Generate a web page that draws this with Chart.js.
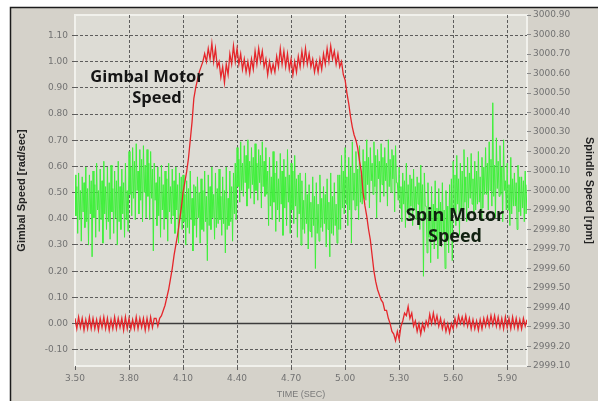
<!DOCTYPE html>
<html>
<head>
<meta charset="utf-8">
<script src="https://cdn.jsdelivr.net/npm/chart.js@4.4.0/dist/chart.umd.min.js"></script>
<style>
  html,body{margin:0;padding:0;background:#fff;}
  #wrap{width:598px;height:401px;position:relative;}
</style>
</head>
<body>
<div id="wrap"><canvas id="c" width="598" height="401"></canvas></div>
<script>
// ---- data ----
const timeTicks = [3.50, 3.80, 4.10, 4.40, 4.70, 5.00, 5.30, 5.60, 5.90];
const gimbalTicks = [-0.10, 0.00, 0.10, 0.20, 0.30, 0.40, 0.50, 0.60, 0.70, 0.80, 0.90, 1.00, 1.10];
const rpmTicks = [2999.10, 2999.20, 2999.30, 2999.40, 2999.50, 2999.60, 2999.70, 2999.80, 2999.90,
                  3000.00, 3000.10, 3000.20, 3000.30, 3000.40, 3000.50, 3000.60, 3000.70, 3000.80, 3000.90];

// sample timing of the recorded traces
const sampleStart = 3.50;
const gimbalStep = 0.01;   // gimbal trace: one value every 0.01 s
const spinCycle = 0.02;    // spin trace: 4 samples per 0.02 s cycle (peak, small trough, small peak, trough)

// Gimbal motor speed [rad/sec], 0.01 s apart starting at 3.50 s
const gimbalSpeed = [
  0.02,-0.02,0.025,-0.015,0.02,-0.025,0.015,-0.02,0.025,-0.02,
  0.02,-0.02,0.015,-0.025,0.02,-0.015,0.025,-0.02,0.02,-0.025,
  0.015,-0.02,0.025,-0.02,0.02,-0.015,0.02,-0.025,0.025,-0.02,
  0.02,-0.02,0.015,-0.02,0.025,-0.02,0.02,-0.015,0.02,-0.025,
  0.02,-0.02,0.025,-0.015,0.02,0.02,-0.01,0.02,0.03,0.05,
  0.07,0.10,0.13,0.17,0.21,0.26,0.30,0.34,0.39,0.44,
  0.50,0.54,0.58,0.63,0.70,0.77,0.86,0.90,0.93,0.96,
  0.98,1.00,1.03,1.00,1.05,1.01,1.07,1.00,1.05,0.98,
  1.00,0.94,0.98,0.92,0.99,0.95,1.03,0.99,1.06,1.00,
  1.05,0.99,1.03,0.97,1.01,0.96,1.00,0.955,1.01,0.97,
  1.04,0.99,1.05,1.00,1.04,0.98,1.01,0.95,1.00,0.96,
  0.99,0.96,1.02,0.98,1.05,0.99,1.04,0.98,1.03,0.97,
  1.01,0.95,1.00,0.96,1.02,0.98,1.04,0.99,1.05,0.99,
  1.03,0.98,1.01,0.96,1.00,0.96,1.01,0.97,1.03,0.99,
  1.05,1.00,1.06,1.01,1.04,0.99,1.03,0.98,1.00,0.95,
  0.93,0.88,0.84,0.79,0.75,0.72,0.70,0.67,0.62,0.58,
  0.50,0.45,0.41,0.36,0.32,0.26,0.20,0.16,0.13,0.11,
  0.09,0.08,0.05,0.05,0.02,0.00,-0.03,-0.04,-0.065,-0.03,
  -0.06,-0.01,0.01,0.04,0.03,0.065,0.02,0.04,-0.01,0.01,
  -0.03,0.00,-0.04,0.00,-0.025,0.01,-0.01,0.035,0.00,0.04,
  0.00,0.03,-0.01,0.02,-0.02,0.01,-0.03,0.00,-0.035,0.00,
  -0.02,0.02,-0.01,0.03,0.00,0.025,-0.005,0.03,-0.01,0.02,
  -0.02,0.015,-0.02,0.01,-0.025,0.015,-0.02,0.02,-0.01,0.025,
  -0.01,0.03,-0.005,0.03,-0.01,0.025,-0.015,0.02,-0.02,0.025,
  -0.015,0.02,-0.02,0.025,-0.015,0.02,-0.02,0.015,-0.02,0.02,
  -0.01,0.015
];

// Spin motor speed [rpm]; cycle i starts at 3.50 + 0.02 i
// big upper spikes (+0.000 s)
const spinHigh = [
  3000.08,3000.09,3000.07,3000.12,3000.08,
  3000.10,3000.14,3000.11,3000.15,3000.12,
  3000.13,3000.10,3000.15,3000.11,3000.14,
  3000.20,3000.22,3000.24,3000.21,3000.23,
  3000.21,3000.20,3000.14,3000.12,3000.13,
  3000.10,3000.14,3000.11,3000.12,3000.09,
  3000.08,3000.05,3000.10,3000.03,3000.07,
  3000.06,3000.10,3000.08,3000.12,3000.09,
  3000.11,3000.07,3000.12,3000.10,3000.09,
  3000.22,3000.25,3000.23,3000.26,3000.22,
  3000.24,3000.21,3000.25,3000.22,3000.17,
  3000.20,3000.15,3000.19,3000.16,3000.21,
  3000.14,3000.18,3000.08,3000.05,3000.09,
  3000.03,3000.07,3000.04,3000.08,3000.02,
  3000.06,3000.09,3000.04,3000.08,3000.18,
  3000.22,3000.17,3000.25,3000.20,3000.23,
  3000.21,3000.26,3000.22,3000.25,3000.21,
  3000.24,3000.22,3000.26,3000.21,3000.23,
  3000.12,3000.09,3000.14,3000.08,3000.11,
  3000.07,3000.13,3000.09,3000.04,3000.02,
  3000.05,3000.01,3000.04,3000.00,3000.03,
  3000.15,3000.18,3000.14,3000.21,3000.17,
  3000.19,3000.15,3000.20,3000.17,3000.22,
  3000.25,3000.45,3000.27,3000.23,3000.26,
  3000.14,3000.17,3000.09,3000.13,3000.07,3000.10
];
// small troughs (+0.005 s)
const spinMidLow = [
  2999.87,2999.85,2999.89,2999.84,2999.88,
  2999.86,2999.90,2999.85,2999.88,2999.84,
  2999.89,2999.86,2999.84,2999.88,2999.85,
  2999.98,2999.96,3000.00,2999.95,2999.99,
  2999.97,2999.96,2999.95,2999.87,2999.90,
  2999.86,2999.89,2999.87,2999.90,2999.86,
  2999.84,2999.81,2999.85,2999.82,2999.86,
  2999.80,2999.84,2999.82,2999.86,2999.81,
  2999.85,2999.83,2999.80,2999.84,2999.88,
  3000.02,3000.00,3000.04,3000.01,3000.03,
  3000.00,3000.04,3000.02,2999.98,2999.92,
  2999.94,2999.90,2999.93,2999.91,2999.94,
  2999.90,2999.92,2999.88,2999.80,2999.83,
  2999.79,2999.82,2999.78,2999.81,2999.83,
  2999.80,2999.78,2999.82,2999.80,2999.91,
  2999.93,2999.90,2999.95,2999.92,2999.94,
  2999.96,3000.03,3000.05,3000.02,3000.06,
  3000.03,3000.05,3000.02,3000.06,3000.04,
  2999.91,2999.93,2999.89,2999.92,2999.90,
  2999.93,2999.89,2999.92,2999.76,2999.74,
  2999.77,2999.75,2999.78,2999.74,2999.77,
  2999.91,2999.93,2999.90,2999.94,2999.91,
  2999.93,2999.90,2999.94,2999.91,2999.98,
  3000.00,2999.97,3000.01,2999.98,3000.00,
  2999.90,2999.88,2999.92,2999.89,2999.91,2999.88
];
// small peaks (+0.010 s)
const spinMidHigh = [
  3000.02,3000.00,3000.04,3000.01,3000.05,
  3000.03,3000.00,3000.05,3000.02,3000.04,
  3000.01,3000.05,3000.02,3000.04,3000.00,
  3000.12,3000.15,3000.10,3000.16,3000.13,
  3000.14,3000.11,3000.04,3000.07,3000.03,
  3000.06,3000.02,3000.05,3000.03,3000.07,
  2999.98,3000.01,2999.96,3000.02,2999.99,
  3000.00,2999.97,3000.02,2999.98,3000.01,
  2999.97,3000.00,2999.96,3000.02,3000.14,
  3000.16,3000.14,3000.18,3000.15,3000.17,
  3000.14,3000.18,3000.15,3000.10,3000.07,
  3000.09,3000.06,3000.10,3000.07,3000.08,
  3000.10,3000.06,3000.09,2999.95,2999.98,
  2999.94,2999.97,2999.93,2999.96,2999.98,
  2999.94,2999.97,2999.93,3000.08,3000.10,
  3000.07,3000.12,3000.09,3000.11,3000.08,
  3000.15,3000.17,3000.14,3000.18,3000.15,
  3000.17,3000.14,3000.16,3000.18,3000.04,
  3000.02,3000.05,3000.03,3000.06,3000.02,
  3000.04,3000.03,2999.92,2999.90,2999.93,
  2999.91,2999.94,2999.90,2999.92,3000.06,
  3000.08,3000.06,3000.10,3000.07,3000.09,
  3000.06,3000.10,3000.07,3000.12,3000.14,
  3000.16,3000.13,3000.15,3000.12,3000.05,
  3000.03,3000.06,3000.04,3000.07,3000.05,3000.03
];
// big lower spikes (+0.015 s)
const spinLow = [
  2999.78,2999.74,2999.81,2999.72,2999.66,
  2999.76,2999.79,2999.73,2999.80,2999.75,
  2999.78,2999.72,2999.80,2999.76,2999.79,
  2999.87,2999.85,2999.88,2999.84,2999.86,
  2999.85,2999.69,2999.82,2999.76,2999.80,
  2999.74,2999.83,2999.78,2999.73,2999.80,
  2999.72,2999.78,2999.69,2999.76,2999.73,
  2999.79,2999.64,2999.80,2999.75,2999.83,
  2999.77,2999.68,2999.82,2999.74,2999.85,
  2999.94,2999.97,2999.92,2999.96,2999.93,
  2999.95,2999.91,2999.97,2999.82,2999.85,
  2999.79,2999.84,2999.77,2999.82,2999.78,
  2999.83,2999.76,2999.72,2999.78,2999.70,
  2999.76,2999.60,2999.74,2999.79,2999.71,
  2999.66,2999.77,2999.73,2999.80,2999.88,
  2999.82,2999.73,2999.90,2999.85,2999.93,
  2999.95,2999.91,2999.98,2999.86,2999.94,
  2999.97,2999.92,2999.99,2999.89,2999.95,
  2999.84,2999.81,2999.86,2999.82,2999.85,
  2999.80,2999.56,2999.68,2999.63,2999.70,
  2999.65,2999.71,2999.60,2999.68,2999.64,
  2999.82,2999.77,2999.90,2999.84,2999.96,
  2999.88,2999.93,2999.85,2999.98,2999.90,
  2999.92,2999.86,2999.97,2999.84,2999.90,
  2999.82,2999.92,2999.80,2999.87,2999.84,2999.88
];
const spinOffsets = [0, 0.005, 0.010, 0.015];
const zeroLevel = [0, 0];
const timeRange = [3.50, 6.01];

// ---- build point lists ----
const round4 = v => Math.round(v * 10000) / 10000;
const gimbalPoints = gimbalSpeed.map((v, i) => ({ x: round4(sampleStart + i * gimbalStep), y: v }));
const spinParts = [spinHigh, spinMidLow, spinMidHigh, spinLow];
const spinPoints = [];
for (let i = 0; i < spinHigh.length; i++) {
  spinParts.forEach((arr, k) => {
    if (i < arr.length) spinPoints.push({ x: round4(sampleStart + i * spinCycle + spinOffsets[k]), y: arr[i] });
  });
}
const zeroPoints = [{ x: timeRange[0], y: zeroLevel[0] }, { x: timeRange[1], y: zeroLevel[1] }];

const tickFont = { family: 'DejaVu Sans', size: 9 };
const tickColor = '#727272';
const gridColor = 'rgba(70,70,70,0.85)';

const framePlugin = {
  id: 'frame',
  beforeDraw(chart) {
    const { ctx, chartArea: a, width, height } = chart;
    ctx.save();
    ctx.fillStyle = '#ffffff';
    ctx.fillRect(0, 0, width, height);
    ctx.fillStyle = '#d5d2ca';
    ctx.fillRect(10, 7, width - 10, height - 7);
    ctx.strokeStyle = '#1c1c1c';
    ctx.lineWidth = 1.5;
    ctx.beginPath();
    ctx.moveTo(10.5, height); ctx.lineTo(10.5, 7.5); ctx.lineTo(width, 7.5);
    ctx.stroke();
    ctx.fillStyle = '#dddcd5';
    ctx.fillRect(a.left, a.top, a.right - a.left, a.bottom - a.top);
    ctx.strokeStyle = '#f1f1ec';
    ctx.lineWidth = 2;
    ctx.strokeRect(a.left, a.top, a.right - a.left, a.bottom - a.top);
    ctx.restore();
  },
  afterDraw(chart) {
    const { ctx } = chart;
    ctx.save();
    ctx.textAlign = 'center';
    ctx.textBaseline = 'alphabetic';
    ctx.font = 'bold 16.5px "Open Sans"';
    ctx.fillStyle = '#151515';
    ctx.fillText('Gimbal Motor', 147, 82);
    ctx.fillText('Speed', 157, 103);
    ctx.font = 'bold 18px "Open Sans"';
    ctx.fillStyle = '#102010';
    ctx.fillText('Spin Motor', 455, 221);
    ctx.fillText('Speed', 455, 242);
    ctx.restore();
  }
};

new Chart(document.getElementById('c'), {
  type: 'line',
  data: {
    datasets: [
      { label: 'Gimbal Motor Speed', data: gimbalPoints, yAxisID: 'y', borderColor: '#e5262b', borderWidth: 1.3, pointRadius: 0, tension: 0 },
      { label: 'Spin Motor Speed', data: spinPoints, yAxisID: 'y2', borderColor: '#40f03c', borderWidth: 1, pointRadius: 0, tension: 0 },
      { label: 'zero', data: zeroPoints, yAxisID: 'y', borderColor: '#3c3c3c', borderWidth: 1.5, pointRadius: 0 }
    ]
  },
  options: {
    responsive: false,
    animation: false,
    devicePixelRatio: 1,
    layout: { padding: { top: 15, left: 0, right: 0, bottom: 0 } },
    plugins: { legend: { display: false }, tooltip: { enabled: false } },
    scales: {
      x: {
        type: 'linear', position: 'bottom',
        min: timeRange[0], max: timeRange[1],
        afterBuildTicks: s => { s.ticks = timeTicks.map(v => ({ value: v })); },
        afterFit: s => { s.height = 35; },
        ticks: { font: tickFont, color: tickColor, padding: 3, autoSkip: false, maxRotation: 0,
                 callback: v => Number(v).toFixed(2) },
        grid: { color: ctx => (ctx.tick && ctx.tick.value === timeTicks[0]) ? 'rgba(0,0,0,0)' : gridColor,
                tickColor: gridColor, tickLength: 4, lineWidth: 1 },
        border: { display: false, dash: [3, 2] },
        title: { display: true, text: 'TIME (SEC)', color: '#7a7a7a',
                 font: { family: 'Liberation Sans', size: 9 }, padding: { top: 0, bottom: 1 } }
      },
      y: {
        type: 'linear', position: 'left',
        min: -0.162, max: 1.178,
        afterBuildTicks: s => { s.ticks = gimbalTicks.map(v => ({ value: v })); },
        afterFit: s => { s.width = 75; },
        ticks: { font: tickFont, color: tickColor, padding: 4, autoSkip: false,
                 callback: v => Number(v).toFixed(2) },
        grid: { color: gridColor, tickColor: gridColor, tickLength: 3, lineWidth: 1 },
        border: { display: false, dash: [3, 2] },
        title: { display: true, text: 'Gimbal Speed [rad/sec]', color: '#222',
                 font: { family: 'Liberation Sans', size: 11, weight: 'bold' }, padding: { top: 15, bottom: 0 } }
      },
      y2: {
        type: 'linear', position: 'right',
        min: 2999.10, max: 3000.90,
        afterBuildTicks: s => { s.ticks = rpmTicks.map(v => ({ value: v })); },
        afterFit: s => { s.width = 71; },
        ticks: { font: tickFont, color: tickColor, padding: 2, autoSkip: false,
                 callback: v => Number(v).toFixed(2) },
        grid: { drawOnChartArea: false, color: '#8a8a8a', tickColor: '#8a8a8a', tickLength: 4 },
        border: { display: false },
        title: { display: true, text: 'Spindle Speed [rpm]', color: '#222',
                 font: { family: 'Liberation Sans', size: 11, weight: 'bold' }, padding: { top: 2, bottom: 0 } }
      }
    }
  },
  plugins: [framePlugin]
});
</script>
</body>
</html>
